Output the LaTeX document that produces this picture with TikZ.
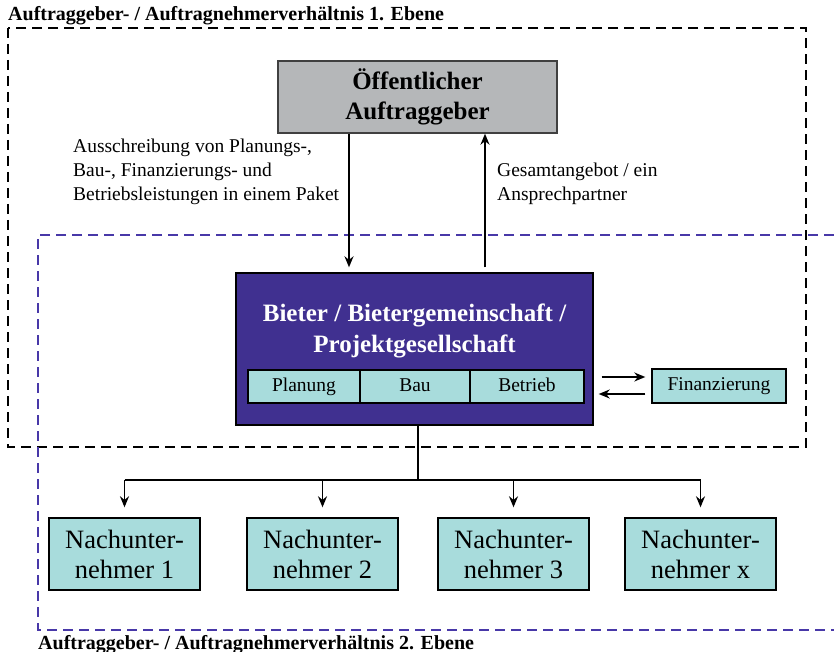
\documentclass[tikz,border=0pt]{standalone}
\usepackage{fontspec}
\setmainfont{Liberation Serif}
\usetikzlibrary{arrows.meta,positioning,calc}
\definecolor{agGray}{RGB}{181,183,185}
\definecolor{bgPurple}{RGB}{64,48,144}
\definecolor{subCyan}{RGB}{168,220,220}
\definecolor{lvBlue}{RGB}{72,56,168}

\begin{document}
\begin{tikzpicture}[x=1pt,y=-1pt,line cap=butt,line join=miter,>={Stealth[length=11pt,width=9pt]},
    ebene/.style={dash pattern=on 10pt off 6pt,line width=2.8pt},
    kasten/.style={draw=black,line width=1.4pt,inner sep=0pt,align=center},
    teil/.style={kasten,fill=subCyan,minimum height=33pt,text height=13pt,text depth=4pt,font=\fontsize{19.5}{22}\selectfont},
    nachu/.style={kasten,fill=subCyan,minimum width=151pt,minimum height=72pt,font=\fontsize{26.5}{30}\selectfont},
    note/.style={align=left,inner sep=0pt,font=\fontsize{19.5}{24}\selectfont},
    titel/.style={inner sep=0pt,anchor=base west,font=\bfseries\fontsize{20}{22}\selectfont}]
    \useasboundingbox (0,0) rectangle (834,652);

    % die beiden Ebenen
    \draw[ebene] (8,28) rectangle (806,447);
    \draw[ebene,lvBlue] (834,235) -- (38,235) -- (38,630) -- (834,630);
    \node[titel] (ebene1) at (8,21) {Auftraggeber- / Auftragnehmerverhältnis 1. Ebene};
    \node[titel] (ebene2) at (38,649) {Auftraggeber- / Auftragnehmerverhältnis 2. Ebene};

    % Auftraggeber und Bieter
    \node[kasten,draw=black!75,fill=agGray,minimum width=279pt,minimum height=72pt,
          font=\bfseries\fontsize{25}{30}\selectfont] (oeff) at (417.5,97) {Öffentlicher\\Auftraggeber};
    \node[kasten,fill=bgPurple,minimum width=357pt,minimum height=152pt] (bieter) at (414.5,349) {};
    \node[align=center,text=white,inner sep=0pt,font=\bfseries\fontsize{25}{31}\selectfont]
          (bietertxt) at (414.5,331) {Bieter / Bietergemeinschaft /\\Projektgesellschaft};
    \node[teil,minimum width=112pt] (planung) at (304,386.5) {Planung};
    \node[teil,minimum width=110pt] (bau) at (415,386.5) {Bau};
    \node[teil,minimum width=114pt] (betrieb) at (527,386.5) {Betrieb};
    \node[teil,minimum width=134pt,minimum height=34pt] (fin) at (719,386) {Finanzierung};

    % Ausschreibung und Angebot
    \coordinate (xa) at (349,0);
    \coordinate (xb) at (485,0);
    \draw[->,line width=1.6pt,shorten >=5pt] (oeff.south -| xa) -- (bieter.north -| xa);
    \draw[->,line width=1.6pt,shorten <=5pt] (bieter.north -| xb) -- (oeff.south -| xb);
    \node[note,anchor=north west] (aus) at (73,139) {Ausschreibung von Planungs-,\\Bau-, Finanzierungs- und\\Betriebsleistungen in einem Paket};
    \node[note,anchor=north west] (ges) at (497,163) {Gesamtangebot / ein\\Ansprechpartner};

    % Finanzierung
    \coordinate (fa) at ([yshift=9pt]fin.west);
    \coordinate (fb) at ([yshift=-8pt]fin.west);
    \draw[->,line width=1.6pt,shorten <=8pt,shorten >=6pt] (fa -| bieter.east) -- (fa);
    \draw[->,line width=1.6pt,shorten <=6pt,shorten >=5pt] (fb) -- (fb -| bieter.east);

    % Nachunternehmer
    \node[nachu] (nu1) at (124.5,554) {Nachunter-\\nehmer 1};
    \node[nachu] (nu2) at (322.5,554) {Nachunter-\\nehmer 2};
    \node[nachu] (nu3) at (513.5,554) {Nachunter-\\nehmer 3};
    \node[nachu] (nux) at (700.5,554) {Nachunter-\\nehmer x};
    \coordinate (bus) at (418,480);
    \draw[line width=1.8pt] (bieter.south -| bus) -- (bus);
    \draw[line width=2.4pt] (nu1.north |- bus) -- (nux.north |- bus);
    \foreach \n in {nu1,nu2,nu3,nux}
        \draw[->,line width=1.6pt,shorten >=10pt] (\n.north |- bus) -- (\n.north);
\end{tikzpicture}
\end{document}
